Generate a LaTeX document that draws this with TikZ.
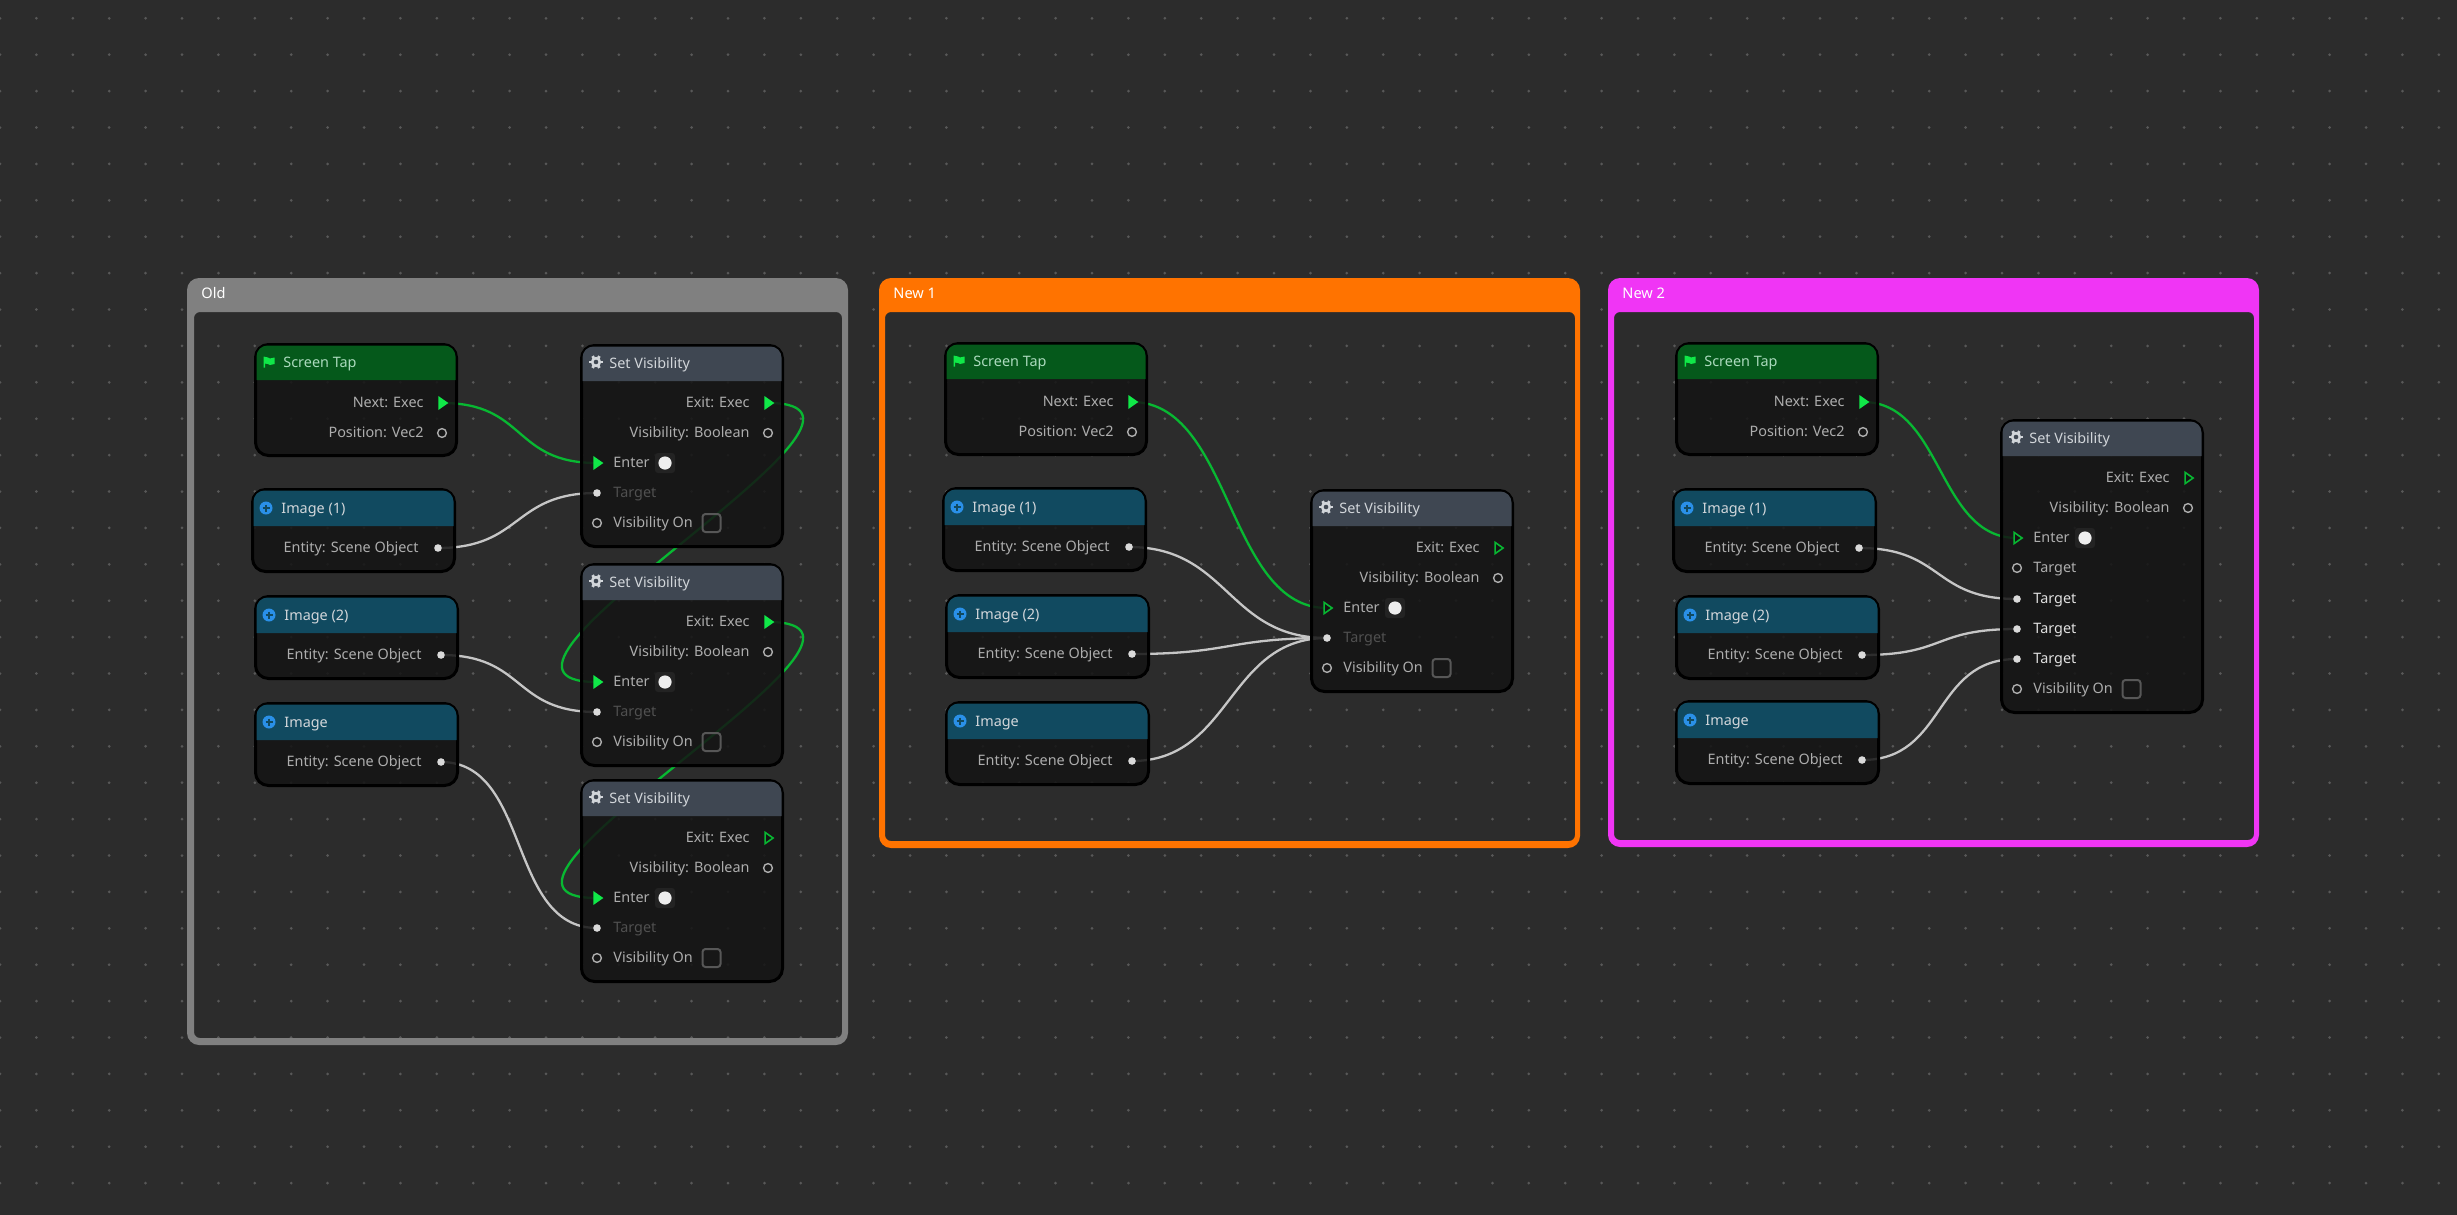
\documentclass[tikz,border=0pt]{standalone}
\usepackage{fontspec}
\setmainfont{Noto Sans}
\usetikzlibrary{shapes.geometric}
\pgfdeclarelayer{grid}
\pgfdeclarelayer{wires}
\pgfsetlayers{grid,wires,main}
\definecolor{canvas}{HTML}{2C2C2C}
\definecolor{griddot}{HTML}{585858}
\definecolor{oldc}{HTML}{808080}
\definecolor{orangec}{HTML}{FF7300}
\definecolor{magc}{HTML}{F035F5}
\definecolor{bodyc}{HTML}{141414}
\definecolor{taphead}{HTML}{05591B}
\definecolor{imghead}{HTML}{114A60}
\definecolor{sethead}{HTML}{3F4752}
\definecolor{limec}{HTML}{10E848}
\definecolor{wiregreen}{HTML}{08B832}
\definecolor{wirewhite}{HTML}{C6C6C6}
\definecolor{txt}{HTML}{ADADAD}
\definecolor{heads}{HTML}{D2D6DA}
\definecolor{plusblue}{HTML}{2A90E8}
\definecolor{halofill}{HTML}{232323}
\definecolor{dimtxt}{HTML}{505050}
\definecolor{brighttxt}{HTML}{E0E0E0}
\definecolor{boxline}{HTML}{575757}
\definecolor{dotfill}{HTML}{DADADA}
\definecolor{bigfill}{HTML}{EEEEEE}
\tikzset{
  x=0.5pt,y=-0.5pt,
  nodebody/.style={draw=black,line width=1.5pt,fill=bodyc,fill opacity=.86,rounded corners=6.5pt,inner sep=0,outer sep=0,anchor=north west},
  rowtext/.style={font=\fontsize{7.2}{9}\selectfont,text=txt,inner sep=0},
  righttext/.style={rowtext,anchor=base east},
  lefttext/.style={rowtext,anchor=base west},
  headtext/.style={font=\fontsize{7.2}{9}\selectfont,text=heads,inner sep=0,anchor=base west},
  grouptext/.style={font=\fontsize{7.3}{9}\selectfont,text=white,inner sep=0,anchor=base west},
  execfill/.style={isosceles triangle,isosceles triangle apex angle=70,fill=limec,inner sep=0,minimum height=5pt,minimum width=6pt,outer sep=0},
  execopen/.style={isosceles triangle,isosceles triangle apex angle=70,draw=wiregreen,line width=.8pt,fill=bodyc,inner sep=0,minimum height=4pt,minimum width=5pt,outer sep=0},
  sockopen/.style={circle,draw=txt,line width=.7pt,inner sep=0,minimum size=4.4pt,outer sep=0},
  sockfill/.style={circle,fill=dotfill,inner sep=0,minimum size=3.8pt,outer sep=0},
  bigdot/.style={circle,fill=bigfill,inner sep=0,minimum size=6.6pt},
  halo/.style={fill=halofill,rounded corners=1.5pt,inner sep=0,minimum size=10pt},
  checkbx/.style={draw=boxline,line width=1pt,rounded corners=1.5pt,inner sep=0,minimum size=9pt},
  wiregr/.style={draw=wiregreen,line width=1.15pt},
  wirewh/.style={draw=wirewhite,line width=1.15pt},
}
\newcommand\flowgroup[8]{% name x1 y1 x2 y2 colour label inner-left offset
  \fill[#6,even odd rule] [rounded corners=6pt] (#2,#3) rectangle (#4,#5)
     [rounded corners=3pt] (#2+#8,312) rectangle (#4-#8+1,#5-7);
  \node[grouptext] (#1) at (#2+14,298) {#7};
}
\newcommand\flowframe[7]{% name x y w h headerbottom colour
  \node[nodebody,minimum width=(#4-3)*0.5pt,minimum height=(#5-3)*0.5pt] (#1) at (#2+1.5,#3+1.5) {};
  \fill[#7] (#2+2.5,#3+#6) [rounded corners=5.5pt] -- (#2+2.5,#3+2.5) -- (#2+#4-2.5,#3+2.5) [sharp corners] -- (#2+#4-2.5,#3+#6) -- cycle;
}
\newcommand\rowR[6]{% portname x y row label portstyle
  \node[righttext] (#1t) at (#2+170,#3+#4+4) {#5};
  \node[#6] (#1) at (#2+188,#3+#4) {};
}
\newcommand\flagicon[2]{\fill[limec,shift={(#1,#2)}] (-5.5,-5.5)--(-1,-4.5)--(1,-3.5)--(5.5,-4.5)--(5.5,2)--(1,3)--(-1,2)--(-4,1.5)--(-4,5.5)--(-5.5,5.5)--cycle;}
\newcommand\plusicon[2]{\begin{scope}[shift={(#1,#2)}]
  \fill[plusblue] (0,0) circle (6.5);
  \draw[imghead,line width=.8pt] (-3.5,0)--(3.5,0) (0,-3.5)--(0,3.5);
\end{scope}}
\newcommand\gearicon[2]{\begin{scope}[shift={(#1,#2)}]
  \fill[heads] (0,0) circle (5.2);
  \foreach \a in {0,60,...,300}{\draw[heads,line width=1.4pt] (\a:4.5) -- (\a:6.8);}
  \fill[sethead] (0,0) circle (2.3);
\end{scope}}
\newcommand\screentap[3]{%
  \flowframe{#1}{#2}{#3}{204}{114}{37}{taphead}
  \flagicon{#2+15}{#3+19}
  \node[headtext,text=heads!80!limec] (#1h) at (#2+29,#3+24) {Screen Tap};
  \rowR{#1next}{#2}{#3}{60}{Next: Exec}{execfill}
  \rowR{#1pos}{#2}{#3}{90}{Position: Vec2}{sockopen}
}
\newcommand\imagebox[4]{%
  \flowframe{#1}{#2}{#3}{205}{85}{38}{imghead}
  \plusicon{#2+15}{#3+20}
  \node[headtext] (#1h) at (#2+30,#3+25) {#4};
  \node[righttext] (#1t) at (#2+168,#3+60+4) {Entity: Scene Object};
  \node[sockfill] (#1out) at (#2+187,#3+60) {};
}
\newcommand\visbox[6]{% name x y h exitstyle enterstyle
  \flowframe{#1}{#2}{#3}{204}{#4}{37}{sethead}
  \gearicon{#2+16}{#3+18}
  \node[headtext] (#1h) at (#2+29,#3+24) {Set Visibility};
  \rowR{#1exit}{#2}{#3}{59}{Exit: Exec}{#5}
  \rowR{#1vis}{#2}{#3}{89}{Visibility: Boolean}{sockopen}
  \node[#6] (#1enter) at (#2+17,#3+119) {};
  \node[lefttext] (#1entert) at (#2+33,#3+119+4) {Enter};
  \node[halo] (#1halo) at (#2+85,#3+119) {};
  \node[bigdot] (#1dot) at (#2+85,#3+119) {};
}
\newcommand\targetrow[6]{% name x y row textcolour style
  \node[#6] (#1) at (#2+17,#3+#4) {};
  \node[lefttext,text=#5] (#1t) at (#2+33,#3+#4+4) {Target};
}
\newcommand\visonrow[4]{% name x y row
  \node[sockopen] (#1) at (#2+17,#3+#4) {};
  \node[lefttext] (#1t) at (#2+33,#3+#4+4) {Visibility On};
  \node[checkbx] (#1c) at (#2+131.5,#3+#4) {};
}
\newcommand\wire[4]{\draw[#1] (#2.center) .. controls +(#4,0) and +(-#4,0) .. (#3.center);}
\begin{document}
\begin{tikzpicture}
\useasboundingbox (0,0) rectangle (2457,1215);
\begin{pgfonlayer}{grid}
\fill[canvas] (0,0) rectangle (2457,1215);
\foreach \i in {0,...,67}{\foreach \j in {0,...,33}{
  \fill[griddot] ({\i*36.4},{18.3+\j*36.4}) circle (1.5);
}}
\end{pgfonlayer}
% groups
\flowgroup{gold}{187}{278}{848}{1045}{oldc}{Old}{7}
\flowgroup{gnew1}{879}{278}{1580}{848}{orangec}{New 1}{6}
\flowgroup{gnew2}{1608}{278}{2259}{847}{magc}{New 2}{6}
% OLD
\screentap{a}{254}{343}
\imagebox{ai1}{251}{488}{Image (1)}
\imagebox{ai2}{254}{595}{Image (2)}
\imagebox{ai3}{254}{702}{Image}
\visbox{as1}{580}{344}{204}{execfill}{execfill}
\targetrow{as1t}{580}{344}{149}{dimtxt}{sockfill}
\visonrow{as1o}{580}{344}{179}
\visbox{as2}{580}{563}{204}{execfill}{execfill}
\targetrow{as2t}{580}{563}{149}{dimtxt}{sockfill}
\visonrow{as2o}{580}{563}{179}
\visbox{as3}{580}{779}{204}{execopen}{execfill}
\targetrow{as3t}{580}{779}{149}{dimtxt}{sockfill}
\visonrow{as3o}{580}{779}{179}
% NEW 1
\screentap{b}{944}{342}
\imagebox{bi1}{942}{487}{Image (1)}
\imagebox{bi2}{945}{594}{Image (2)}
\imagebox{bi3}{945}{701}{Image}
\visbox{bs}{1310}{489}{204}{execopen}{execopen}
\targetrow{bst}{1310}{489}{149}{dimtxt}{sockfill}
\visonrow{bso}{1310}{489}{179}
% NEW 2
\screentap{c}{1675}{342}
\imagebox{ci1}{1672}{488}{Image (1)}
\imagebox{ci2}{1675}{595}{Image (2)}
\imagebox{ci3}{1675}{700}{Image}
\visbox{cs}{2000}{419}{295}{execopen}{execopen}
\targetrow{cst1}{2000}{419}{149}{txt}{sockopen}
\targetrow{cst2}{2000}{419}{180}{brighttxt}{sockfill}
\targetrow{cst3}{2000}{419}{210}{brighttxt}{sockfill}
\targetrow{cst4}{2000}{419}{240}{brighttxt}{sockfill}
\visonrow{cso}{2000}{419}{270}
% wires
\begin{pgfonlayer}{wires}
\wire{wiregr}{anext}{as1enter}{85}
\wire{wirewh}{ai1out}{as1t}{85}
\wire{wirewh}{ai2out}{as2t}{85}
\wire{wirewh}{ai3out}{as3t}{90}
\wire{wiregr}{as1exit}{as2enter}{170}
\wire{wiregr}{as2exit}{as3enter}{170}
\wire{wiregr}{bnext}{bsenter}{100}
\wire{wirewh}{bi1out}{bst}{100}
\wire{wirewh}{bi2out}{bst}{100}
\wire{wirewh}{bi3out}{bst}{100}
\wire{wiregr}{cnext}{csenter}{80}
\wire{wirewh}{ci1out}{cst2}{85}
\wire{wirewh}{ci2out}{cst3}{85}
\wire{wirewh}{ci3out}{cst4}{85}
\end{pgfonlayer}
\end{tikzpicture}
\end{document}
